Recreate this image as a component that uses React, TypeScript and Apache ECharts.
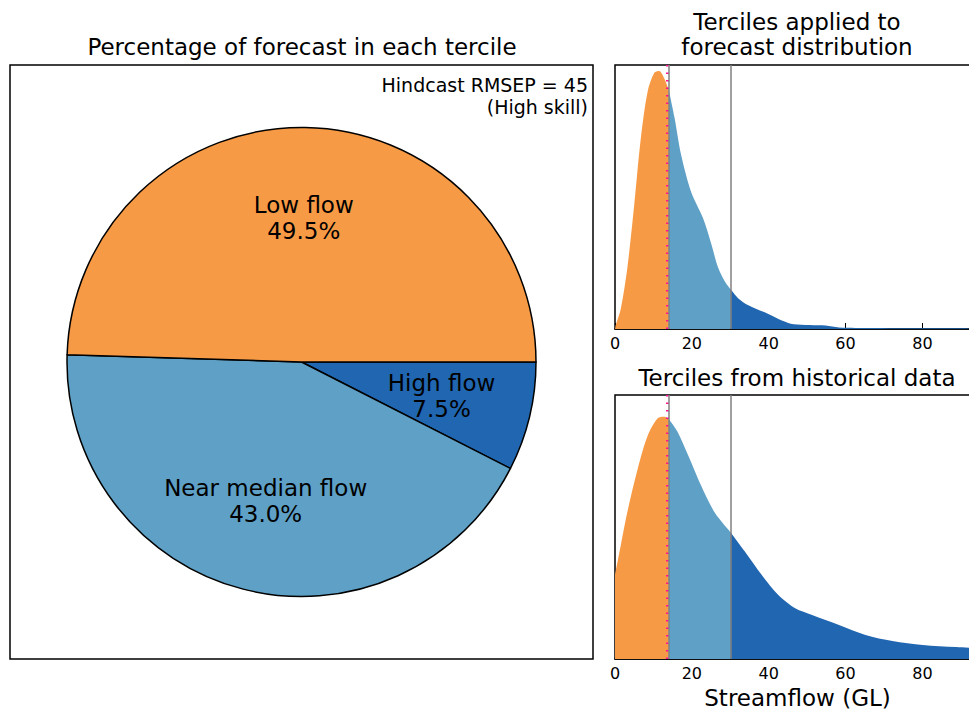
import React, { useEffect, useRef } from "react";
import * as echarts from "echarts";

// ---- Data ----
const pieCategories = ["High flow", "Near median flow", "Low flow"];
const piePercent = [7.5, 43.0, 49.5];
const tercileColors = ["#2166b0", "#5ea0c6", "#f79a45"]; // high, near, low

const forecastX = [0, 0.2, 1.5, 3.2, 5.0, 6.7, 8.5, 10.2, 11.5, 12.8, 14, 15.5, 17.2, 19.8, 22.9, 25.1, 26.8, 28.6, 30, 32.1, 34.7, 39.9, 43.4, 46.5, 54.8, 58.3, 67, 75.7, 84.4, 95];
const forecastY = [0, 0.015, 0.076, 0.23, 0.47, 0.72, 0.9, 0.97, 0.977, 0.95, 0.905, 0.8, 0.66, 0.52, 0.42, 0.32, 0.234, 0.18, 0.152, 0.116, 0.09, 0.057, 0.032, 0.018, 0.013, 0.006, 0.004, 0.0025, 0.0025, 0.002];

const historicalX = [0, 1.5, 3.2, 5.9, 8.5, 11.1, 12.8, 14, 16.3, 19.0, 22.4, 25.9, 30, 33.8, 38.2, 42.5, 46.9, 51.3, 58.3, 65.2, 72.2, 80.1, 88.8, 95];
const historicalY = [0.318, 0.43, 0.556, 0.72, 0.846, 0.912, 0.918, 0.909, 0.86, 0.773, 0.657, 0.556, 0.482, 0.407, 0.318, 0.242, 0.192, 0.167, 0.129, 0.091, 0.068, 0.053, 0.045, 0.041];

const lowerTercile = 14;
const upperTercile = 30;
const medianFlow = 13.6;
const xTicks = [0, 20, 40, 60, 80];
const xMax = 95;

const FONT = '"DejaVu Sans", "Liberation Sans", sans-serif';

function segment(xs: number[], ys: number[], lo: number, hi: number) {
  const out: number[][] = [];
  xs.forEach((x, i) => {
    if (x >= lo && x <= hi) out.push([x, ys[i]]);
  });
  return out;
}

function areaSeries(xs: number[], ys: number[], idx: number) {
  const parts = [
    { lo: 0, hi: lowerTercile, color: tercileColors[2] },
    { lo: lowerTercile, hi: upperTercile, color: tercileColors[1] },
    { lo: upperTercile, hi: xMax, color: tercileColors[0] },
  ];
  return parts.map((p) => ({
    type: "line",
    xAxisIndex: idx,
    yAxisIndex: idx,
    data: segment(xs, ys, p.lo, p.hi),
    smooth: 0.3,
    showSymbol: false,
    symbol: "none",
    silent: true,
    lineStyle: { width: 0, opacity: 0 },
    areaStyle: { color: p.color, opacity: 1 },
    z: 2,
  }));
}

function markSeries(idx: number) {
  return {
    type: "line",
    xAxisIndex: idx,
    yAxisIndex: idx,
    data: [] as number[][],
    symbol: "none",
    lineStyle: { width: 0 },
    z: 5,
    markLine: {
      silent: true,
      symbol: ["none", "none"],
      label: { show: false },
      animation: false,
      data: [
        { xAxis: medianFlow, lineStyle: { color: "#ff1493", type: [1.5, 6], width: 3 } },
        { xAxis: lowerTercile, lineStyle: { color: "#808080", type: "solid", width: 1.5 } },
        { xAxis: upperTercile, lineStyle: { color: "#808080", type: "solid", width: 1.5 } },
      ],
    },
  };
}

function xAxisCfg(idx: number, withName: boolean) {
  return {
    type: "value",
    gridIndex: idx,
    min: 0,
    max: xMax,
    interval: xTicks[1] - xTicks[0],
    axisLine: { show: true, lineStyle: { color: "#000", width: 1.5 } },
    axisTick: { show: true, inside: true, length: 6, lineStyle: { color: "#000", width: 1 } },
    axisLabel: { color: "#000", fontSize: 16, fontFamily: FONT, margin: 6, showMaxLabel: false },
    splitLine: { show: false },
    name: withName ? "Streamflow (GL)" : "",
    nameLocation: "middle",
    nameGap: 27,
    nameTextStyle: { color: "#000", fontSize: 23, fontFamily: FONT },
  };
}

function yAxisCfg(idx: number) {
  return {
    type: "value",
    gridIndex: idx,
    min: 0,
    max: 1,
    show: false,
    splitLine: { show: false },
  };
}

export default function App() {
  const ref = useRef<HTMLDivElement>(null);

  useEffect(() => {
    if (!ref.current) return;
    const chart = echarts.init(ref.current, undefined, { renderer: "svg" });
    const pieData = pieCategories.map((name, i) => ({
      name,
      value: piePercent[i],
      itemStyle: { color: tercileColors[i] },
    }));

    chart.setOption({
      animation: false,
      backgroundColor: "#fff",
      textStyle: { fontFamily: FONT },
      grid: [
        { left: 615, top: 65, width: 365, height: 264, outerBoundsMode: "none", containLabel: false, show: true, borderColor: "#000", borderWidth: 1.5, backgroundColor: "#fff", z: 0 },
        { left: 615, top: 395, width: 365, height: 264, outerBoundsMode: "none", containLabel: false, show: true, borderColor: "#000", borderWidth: 1.5, backgroundColor: "#fff", z: 0 },
      ],
      xAxis: [xAxisCfg(0, false), xAxisCfg(1, true)],
      yAxis: [yAxisCfg(0), yAxisCfg(1)],
      graphic: [
        {
          type: "rect",
          shape: { x: 10, y: 65, width: 583, height: 594 },
          style: { fill: "none", stroke: "#000", lineWidth: 1.5 },
          silent: true,
        },
        {
          type: "text",
          x: 302,
          y: 47,
          style: { text: "Percentage of forecast in each tercile", fontSize: 23, fontFamily: FONT, fill: "#000", align: "center", verticalAlign: "middle" },
        },
        {
          type: "text",
          x: 797,
          y: 34.5,
          style: { text: "Terciles applied to\nforecast distribution", fontSize: 23, lineHeight: 25, fontFamily: FONT, fill: "#000", align: "center", verticalAlign: "middle" },
        },
        {
          type: "text",
          x: 797,
          y: 378,
          style: { text: "Terciles from historical data", fontSize: 23, fontFamily: FONT, fill: "#000", align: "center", verticalAlign: "middle" },
        },
        {
          type: "text",
          x: 588,
          y: 96,
          style: { text: "Hindcast RMSEP = 45\n(High skill)", fontSize: 19, lineHeight: 22, fontFamily: FONT, fill: "#000", align: "right", verticalAlign: "middle" },
        },
      ],
      series: [
        {
          type: "pie",
          center: [301.5, 362],
          radius: 234.5,
          startAngle: 0,
          clockwise: true,
          silent: true,
          data: pieData,
          label: { show: false },
          labelLine: { show: false },
          itemStyle: { borderColor: "#000", borderWidth: 1.5 },
          z: 2,
        },
        {
          type: "pie",
          center: [301.5, 362],
          radius: 282,
          startAngle: 0,
          clockwise: true,
          silent: true,
          data: pieCategories.map((name, i) => ({ name, value: piePercent[i] })),
          itemStyle: { color: "rgba(0,0,0,0)", borderWidth: 0 },
          labelLine: { show: false },
          label: {
            show: true,
            position: "inside",
            color: "#000",
            fontSize: 23,
            lineHeight: 26,
            fontFamily: FONT,
            formatter: (p: any) => `${p.name}\n${Number(p.value).toFixed(1)}%`,
          },
          z: 3,
        },
        ...areaSeries(forecastX, forecastY, 0),
        ...areaSeries(historicalX, historicalY, 1),
        markSeries(0),
        markSeries(1),
      ],
    });
    return () => chart.dispose();
  }, []);

  return (
    <div
      ref={ref}
      style={{ position: "fixed", left: 0, top: 0, width: 969, height: 711, background: "#fff" }}
    />
  );
}
